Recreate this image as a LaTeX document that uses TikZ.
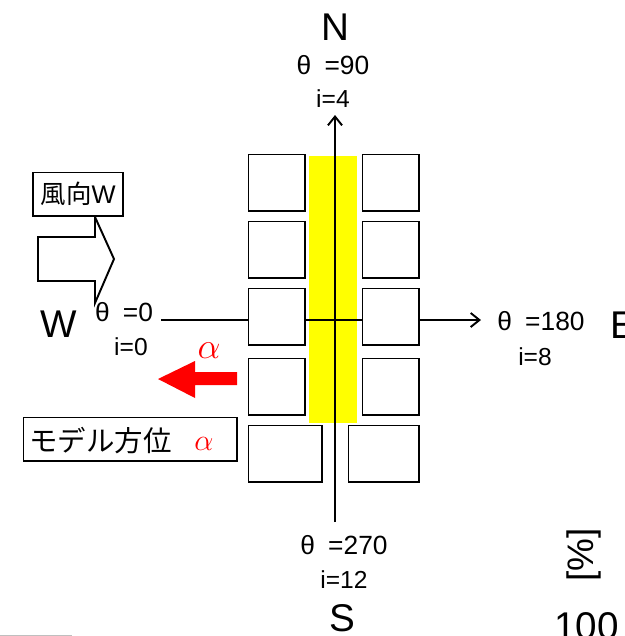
\documentclass[tikz,border=0pt]{standalone}
\usepackage{fontspec}
\setmainfont{Liberation Sans}
\newfontfamily\cjk{Noto Sans CJK JP}
\usepackage{xcolor}
\usetikzlibrary{arrows.meta}
\definecolor{bandyellow}{RGB}{255,255,0}
\definecolor{alphared}{RGB}{255,0,0}
\tikzset{
    room/.style={draw=black, fill=white, line width=1.1pt, minimum width=1.13cm, minimum height=1.13cm, inner sep=0pt, anchor=north west},
    dirlabel/.style={font=\fontsize{22}{24}\selectfont, inner sep=0pt},
    anglabel/.style={font=\fontsize{15}{17}\selectfont, inner sep=0pt},
    indexlabel/.style={font=\fontsize{14}{16}\selectfont, inner sep=0pt},
    notebox/.style={draw=black, fill=white, line width=1.1pt, inner sep=0pt, anchor=north west},
}
\begin{document}
\begin{tikzpicture}[x=0.02cm, y=-0.02cm]
    \useasboundingbox (0,0) rectangle (625,636);
    \clip (0,0) rectangle (625,636);
    %%Yellow band
    \fill[bandyellow] (309,156) rectangle (357,423);
    %%Axes
    \coordinate (axisN) at (335,115);
    \coordinate (axisS) at (335,522);
    \coordinate (axisW) at (161,320);
    \coordinate (axisE) at (481,320);
    \draw[line width=1.1pt, -{Straight Barb[length=5pt, width=8pt]}] (axisS) -- (axisN);
    \draw[line width=1.1pt, -{Straight Barb[length=5pt, width=8pt]}] (axisW) -- (axisE);
    %%Rooms
    \foreach \ya/\rowname in {153.5/a, 220.5/b, 287.5/c, 357.5/d} {
        \node[room] (left\rowname) at (247.5,\ya) {};
        \node[room] (right\rowname) at (361.5,\ya) {};
    }
    \node[room, minimum width=1.47cm] (lefte) at (247.5,424.5) {};
    \node[room, minimum width=1.41cm] (righte) at (347.5,424.5) {};
    %%Direction labels
    \node[dirlabel] (labelN) at (335,27) {N};
    \node[dirlabel] (labelS) at (342,618) {S};
    \node[dirlabel] (labelW) at (59,324) {W};
    \node[dirlabel, anchor=west] (labelE) at (610,325) {E};
    \node[anglabel] (thetaN) at (333,65) {θ\hspace{0.5em}=90};
    \node[indexlabel] (indexN) at (333,99) {i=4};
    \node[anglabel] (thetaW) at (124,312) {θ\hspace{0.5em}=0};
    \node[indexlabel] (indexW) at (131,347) {i=0};
    \node[anglabel] (thetaE) at (541,321) {θ\hspace{0.5em}=180};
    \node[indexlabel] (indexE) at (535,357) {i=8};
    \node[anglabel] (thetaS) at (344,545) {θ\hspace{0.5em}=270};
    \node[indexlabel] (indexS) at (344,580) {i=12};
    %%Wind arrow
    \draw[line width=1.1pt, fill=white] (38,237) -- (95,237) -- (95,217) -- (114,259) -- (95,303) -- (95,281) -- (38,281) -- cycle;
    \node[notebox, minimum width=1.81cm, minimum height=0.87cm, font=\fontsize{14.5}{16}\selectfont] (windbox) at (32,171.5) {{\cjk 風向}W};
    %%Model azimuth
    \fill[alphared] (237,372) -- (195,372) -- (195,361) -- (158,379) -- (195,398) -- (195,385) -- (237,385) -- cycle;
    \node[text=alphared, inner sep=0pt, font=\fontsize{20}{22}\selectfont] (alphaarrow) at (209,351) {$\alpha$};
    \node[notebox, minimum width=4.27cm, minimum height=0.87cm] (modelbox) at (22.5,416.5) {};
    \node[anchor=west, inner sep=0pt, font=\cjk\fontsize{16.2}{18}\selectfont] (modeltext) at (29,441) {モデル方位};
    \node[text=alphared, inner sep=0pt, font=\fontsize{17}{19}\selectfont] (alphabox) at (204,444) {$\alpha$};
    %%Axis of the next chart
    \node[rotate=90, inner sep=0pt, font=\fontsize{21}{23}\selectfont] (unitlabel) at (584,555) {[\%]};
    \node[anchor=west, inner sep=0pt, font=\fontsize{22}{24}\selectfont] (hundred) at (554,626) {100};
    \draw[gray!50, line width=0.5pt] (0,635.5) -- (72,635.5);
\end{tikzpicture}
\end{document}
